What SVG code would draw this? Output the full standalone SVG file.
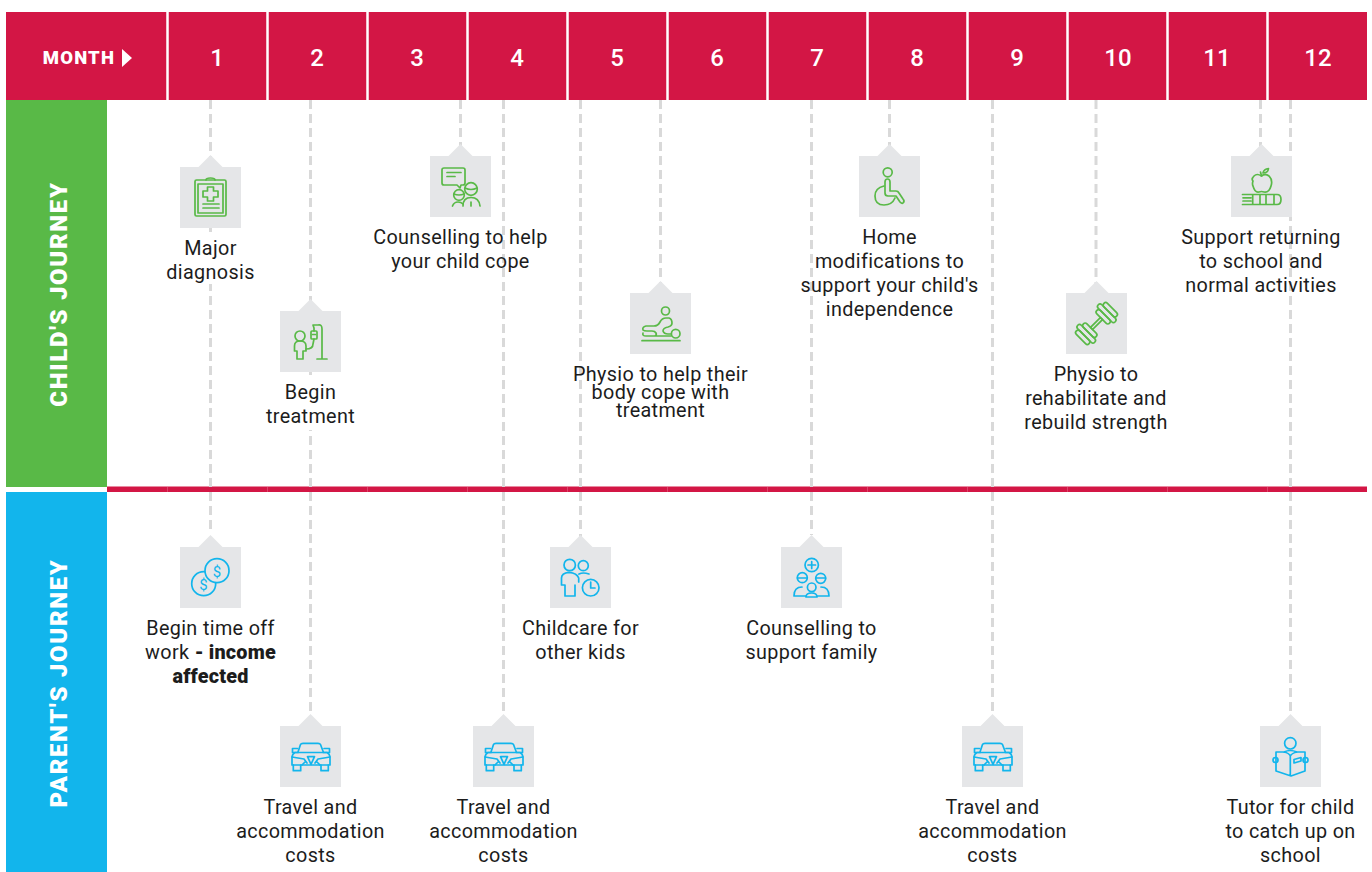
<svg xmlns="http://www.w3.org/2000/svg" width="1372" height="872" viewBox="0 0 1372 872">
<style>
text{font-family:Roboto,"Liberation Sans",sans-serif}
.t{font-size:19.800px;fill:#1c1c1c;text-anchor:middle;letter-spacing:.35px}
.bo{font-weight:900;font-size:19.800px;letter-spacing:.2px}
.m{font-size:24px;font-weight:500;fill:#fff;text-anchor:middle}
.h{font-weight:900;fill:#fff;text-anchor:middle;letter-spacing:1.2px}
.v{letter-spacing:1.680px}
.d{stroke:#d9d9d9;stroke-width:3;stroke-dasharray:9 5;fill:none}
.g{fill:none;stroke:#59b947;stroke-width:1.700;stroke-linecap:round;stroke-linejoin:round}
.b{fill:none;stroke:#12b5ec;stroke-width:1.700;stroke-linecap:round;stroke-linejoin:round}
.box{fill:#e5e6e8}
.w{fill:#fff}
</style>
<defs>
<path id="box" class="box" d="M0 0H18.500L30.500-12L42.500 0H61V61H0Z"/>
<g id="car">
<path d="M18 26L20.500 18.500Q21 17.300 23 17.300H38Q40 17.300 40.500 18.500L43.300 26"/>
<path d="M18 26.500H12.500V22.500H17.500M43.500 26.500H49.500V22.500H44"/>
<path d="M15 26.500H47Q50 28 50 32V39H12V32Q12 28 15 26.500Z"/>
<path d="M12 31L24 33L27 37M50 31L38 33L35 37M27.500 30.700H34.500L31 38.300ZM22 39L25 36M40 39L37 36"/>
<path d="M13.300 39V44.700H20.700V39M41 39V44.700H48.300V39"/>
</g>
</defs>

<rect x="6" y="12" width="1361" height="88" fill="#d31645"/>
<rect x="6" y="100" width="101" height="387" fill="#59b947"/>
<rect x="6" y="492" width="101" height="380" fill="#12b5ec"/>
<rect x="107" y="486.500" width="1260" height="5.500" fill="#d31645"/>
<g stroke="#fff" stroke-width="2.500">
<path d="M167.500 12V100M267.500 12V100M367.500 12V100M467.500 12V100M567.500 12V100M667.500 12V100M767.500 12V100M867.500 12V100M967.500 12V100M1067.500 12V100M1167.500 12V100M1267.500 12V100"/>
</g>
<g stroke="#fff" stroke-opacity=".2" stroke-width="1">
<path d="M167.500 487V492M267.500 487V492M367.500 487V492M467.500 487V492M567.500 487V492M667.500 487V492M767.500 487V492M867.500 487V492M967.500 487V492M1067.500 487V492M1167.500 487V492M1267.500 487V492"/>
</g>
<text class="h" x="79" y="64" font-size="18.500">MONTH</text>
<path d="M122 49L132 58L122 67Z" fill="#fff"/>
<g>
<text class="m" x="217" y="66">1</text><text class="m" x="317" y="66">2</text><text class="m" x="417" y="66">3</text><text class="m" x="517" y="66">4</text><text class="m" x="617" y="66">5</text><text class="m" x="717" y="66">6</text><text class="m" x="817" y="66">7</text><text class="m" x="917" y="66">8</text><text class="m" x="1017" y="66">9</text><text class="m" x="1118" y="66">10</text><text class="m" x="1217" y="66">11</text><text class="m" x="1318" y="66">12</text>
</g>
<text class="h v" transform="translate(67 294) rotate(-90)" font-size="24">CHILD'S JOURNEY</text>
<text class="h v" transform="translate(67 683) rotate(-90)" font-size="24">PARENT'S JOURNEY</text>

<g id="connectors">
<path class="d" d="M210.500 100V532"/>
<path class="d" d="M310.500 100V712"/>
<path class="d" d="M460.500 100V150"/>
<path class="d" d="M503.500 100V712"/>
<path class="d" d="M580.500 100V538"/>
<path class="d" d="M660.500 100V285"/>
<path class="d" d="M811.500 100V535"/>
<path class="d" d="M889.500 100V150"/>
<path class="d" d="M992.500 100V712"/>
<path class="d" d="M1096 100V285"/>
<path class="d" d="M1260.500 100V150"/>
<path class="d" d="M1290.500 100V712"/>
</g>

<g id="n1"><rect class="w" x="160" y="232" width="100" height="52"/><use href="#box" x="180" y="167"/>
<g class="g" transform="translate(180 167)"><rect x="15" y="13" width="31" height="36" rx="1.500"/><path d="M26 13Q26 11 30.500 11Q35 11 35 13M18 17H43V46H18Z"/><path d="M27.500 20H33.500V24H38V30H33.500V34H27.500V30H23V24H27.500Z"/><path d="M23 37H39M23 41H39"/></g>
<text class="t" x="210.500" y="255">Major</text><text class="t" x="210.500" y="279">diagnosis</text></g>

<g id="n2"><rect class="w" x="260" y="376" width="100" height="54"/><use href="#box" x="280" y="311"/>
<g class="g" transform="translate(280 311)"><circle cx="20" cy="25" r="5"/><path d="M20 30Q14.500 30 14.500 35V40H17V48H23V40H26V35Q26 30 20 30Z"/><path d="M26 38Q33 38 33 33L34 28"/><rect x="31" y="20" width="6" height="8" rx="1"/><path d="M32.500 23.500H35.500M34 20V17L33 14M33 14H38Q42 13 42 18V48M37 48H47"/></g>
<text class="t" x="310.500" y="399">Begin</text><text class="t" x="310.500" y="423">treatment</text></g>

<g id="n3"><use href="#box" x="430" y="156"/>
<g class="g" transform="translate(430 156)"><path d="M14 12H33Q35 12 35 14V27Q35 29 33 29H31L30 32L27 29H14Q12 29 12 27V14Q12 12 14 12Z"/><path d="M17 16.500H31M17 20.500H25"/><circle cx="41" cy="33" r="6.300"/><path d="M35 32Q41 35 47 32M33 50Q33 41.500 41 41.500Q49 41.500 50 50M41 46V50"/><circle cx="29" cy="39" r="5.300"/><path d="M24 38Q29 40 34 38M22.500 50Q24 46 28 46Q31 46 33 48"/></g>
<text class="t" x="460.500" y="244">Counselling to help</text><text class="t" x="460.500" y="268">your child cope</text></g>

<g id="n5"><use href="#box" x="630" y="293"/>
<g class="g" transform="translate(630 293)"><circle cx="35.500" cy="18" r="4"/><circle cx="45.700" cy="40.700" r="4.300"/><path d="M12 47.700H50"/><path d="M16 33H24Q28 33 30 29Q32 25 36 25H39Q42 26 42 30Q42 33 38 34Q33 35 33 38Q34 41 38 41H41M16 33Q12 34 13 37Q14 38 17 38H22Q25 38 26 40Q27 42 25 43H16Q12 43 13 40M25 43H41"/></g>
<text class="t" x="660.500" y="381">Physio to help their</text><text class="t" x="660.500" y="399">body cope with</text><text class="t" x="660.500" y="417">treatment</text></g>

<g id="n8"><use href="#box" x="859" y="156"/>
<g class="g" transform="translate(859 156)"><circle cx="28.700" cy="16.300" r="4.500"/><path d="M26 26V37Q26 40 29 40H37L41 46Q43 48 44 47Q46 45 44 43L40 37Q39 35 37 35H31V26Q31 23 28.500 23Q26 23 26 26Z"/><path d="M25 30Q16 32 16 40Q16 49 25 49Q33 49 36 42"/></g>
<text class="t" x="889.500" y="244">Home</text><text class="t" x="889.500" y="268">modifications to</text><text class="t" x="889.500" y="292">support your child's</text><text class="t" x="889.500" y="316">independence</text></g>

<g id="n10"><use href="#box" x="1066" y="293"/>
<g class="g" transform="translate(1096.500 323.500) rotate(-45)"><path d="M-7-1.500H7V1.500H-7Z"/><rect x="-12" y="-9" width="5" height="18" rx="2.500"/><rect x="-17" y="-12" width="5" height="24" rx="2.500"/><rect x="-22" y="-9" width="5" height="18" rx="2.500"/><rect x="7" y="-9" width="5" height="18" rx="2.500"/><rect x="12" y="-12" width="5" height="24" rx="2.500"/><rect x="17" y="-9" width="5" height="18" rx="2.500"/></g>
<text class="t" x="1096" y="381">Physio to</text><text class="t" x="1096" y="405">rehabilitate and</text><text class="t" x="1096" y="429">rebuild strength</text></g>

<g id="n11"><use href="#box" x="1231" y="156"/>
<g class="g" transform="translate(1231 156)"><path d="M30.500 20Q26 17 23 20Q20 23 22 25Q21 28 22 30Q24 37 28 36Q30.500 35 33 36Q38 37 40 30Q42 24 38 20Q34 17 30.500 20Z"/><path d="M30.500 20Q30 18 29.500 16M32 17Q33 13 37.500 12.500Q37 17 32 17Z"/><path d="M11.500 38.500H46Q50 38.500 50 43.500Q50 48.500 46 48.500H11.500M12 41.800H20M12 45H20M21.700 38.500V48.500M29 38.500V48.500M35 38.500V48.500M43 38.500V48.500"/></g>
<text class="t" x="1261" y="244">Support returning</text><text class="t" x="1261" y="268">to school and</text><text class="t" x="1261" y="292">normal activities</text></g>

<g id="p1"><rect class="w" x="140" y="612" width="140" height="74"/><use href="#box" x="180" y="547"/>
<g class="b" transform="translate(180 547)"><circle cx="23.700" cy="36.700" r="12"/><circle cx="37" cy="23.700" r="12" fill="#e5e6e8"/></g>
<text x="203.500" y="590" font-size="15" fill="#12b5ec" text-anchor="middle">$</text><text x="217" y="577" font-size="15" fill="#12b5ec" text-anchor="middle">$</text>
<text class="t" x="210.500" y="635">Begin time off</text><text class="t" x="210.500" y="659">work <tspan class="bo">- income</tspan></text><text class="t bo" x="210.500" y="683">affected</text></g>

<g id="p2"><use href="#box" x="280" y="726"/><use href="#car" class="b" x="280" y="726"/>
<text class="t" x="310.500" y="814">Travel and</text><text class="t" x="310.500" y="838">accommodation</text><text class="t" x="310.500" y="862">costs</text></g>

<g id="p3"><use href="#box" x="473" y="726"/><use href="#car" class="b" x="473" y="726"/>
<text class="t" x="503.500" y="814">Travel and</text><text class="t" x="503.500" y="838">accommodation</text><text class="t" x="503.500" y="862">costs</text></g>

<g id="p4"><use href="#box" x="550" y="547"/>
<g class="b" transform="translate(550 547)"><circle cx="19.700" cy="18" r="5.700"/><circle cx="33.300" cy="18.700" r="5"/><path d="M29 27Q33 25 39 27"/><path d="M11.500 38V31Q11.500 26 19 25.300Q27 26 28.700 31V35M11.500 38H15V49H25V38"/><circle cx="40.700" cy="40.700" r="8.300"/><path d="M40.700 35V41H45"/></g>
<text class="t" x="580.500" y="635">Childcare for</text><text class="t" x="580.500" y="659">other kids</text></g>

<g id="p5"><use href="#box" x="781" y="547"/>
<g class="b" transform="translate(781 547)"><circle cx="30.700" cy="18" r="6.700"/><path d="M30.700 14.500V21.500M27 18H34.500"/><circle cx="21.300" cy="30.700" r="5"/><path d="M16.500 31H26"/><circle cx="39.700" cy="31.300" r="5"/><path d="M35 31H44.500"/><circle cx="30.700" cy="40.300" r="4.300"/><path d="M13 49Q13 40 21 40M48 49Q48 40 40 40M13 49H25M36 49H48M25 50Q25 46 30.700 46Q36 46 36 50H25"/></g>
<text class="t" x="811.500" y="635">Counselling to</text><text class="t" x="811.500" y="659">support family</text></g>

<g id="p6"><use href="#box" x="962" y="726"/><use href="#car" class="b" x="962" y="726"/>
<text class="t" x="992.500" y="814">Travel and</text><text class="t" x="992.500" y="838">accommodation</text><text class="t" x="992.500" y="862">costs</text></g>

<g id="p7"><use href="#box" x="1260" y="726"/>
<g class="b" transform="translate(1260 726)"><circle cx="30.300" cy="17.300" r="5.700"/><path d="M24 26Q30 23 37 26M16 26H24Q29 27 30.300 30Q32 27 37 26H45V45L31 50L16 45ZM30.300 30V50"/><circle cx="15.500" cy="34" r="2.500"/><circle cx="45.500" cy="34" r="2.500"/><path d="M34 33.500L41 31.500V35L34 37Z"/></g>
<text class="t" x="1290.500" y="814">Tutor for child</text><text class="t" x="1290.500" y="838">to catch up on</text><text class="t" x="1290.500" y="862">school</text></g>
</svg>
